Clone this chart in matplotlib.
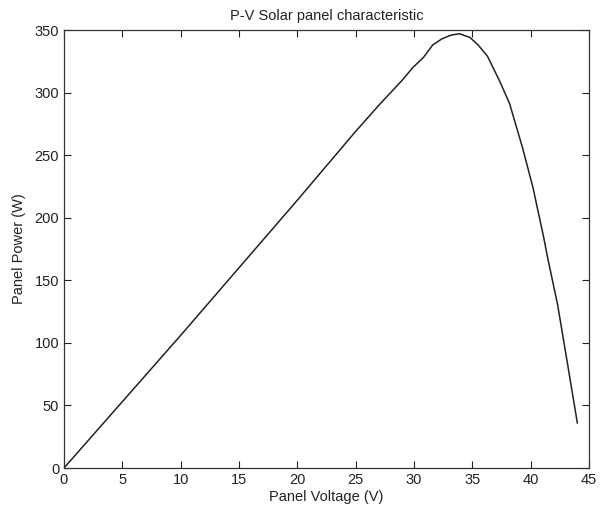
import matplotlib
matplotlib.use("Agg")
import matplotlib.pyplot as plt

voltage = [0, 5, 10, 15, 20, 25, 27, 29, 29.9, 30.8, 31.6, 32.4, 33.2, 33.9, 34.8, 35.5, 36.3, 37.4, 38.2, 39.3, 40.2, 41.1, 41.5, 42.3, 43.2, 44.0]
power = [0, 53, 106, 160, 214, 269, 290, 310, 320, 328, 338, 343, 346, 347, 344, 338, 329, 308, 291, 256, 224, 185, 166, 131, 81, 36]
xticks = [0, 5, 10, 15, 20, 25, 30, 35, 40, 45]
yticks = [0, 50, 100, 150, 200, 250, 300, 350]

plt.rcParams['font.family'] = ['Liberation Sans', 'DejaVu Sans']
fig = plt.figure(figsize=(6.02, 5.15), dpi=100)
ax = fig.add_axes([64/602, 1-468/515, 525/602, 438/515])
ax.plot(voltage, power, color='#222222', linewidth=1.1)
ax.set_xlim(0, 45)
ax.set_ylim(0, 350)
ax.set_xticks(xticks)
ax.set_yticks(yticks)
ax.tick_params(direction='in', length=5, top=True, right=True, labelsize=10.5, colors='#222222', width=0.8)
for s in ax.spines.values():
    s.set_color('#333333')
    s.set_linewidth(0.9)
ax.set_title('P-V Solar panel characteristic', fontsize=10.5, color='#222222', pad=7)
ax.set_xlabel('Panel Voltage (V)', fontsize=10.5, color='#222222', labelpad=2)
ax.set_ylabel('Panel Power (W)', fontsize=10.5, color='#222222', labelpad=6)
fig.savefig('out.png', dpi=100)
